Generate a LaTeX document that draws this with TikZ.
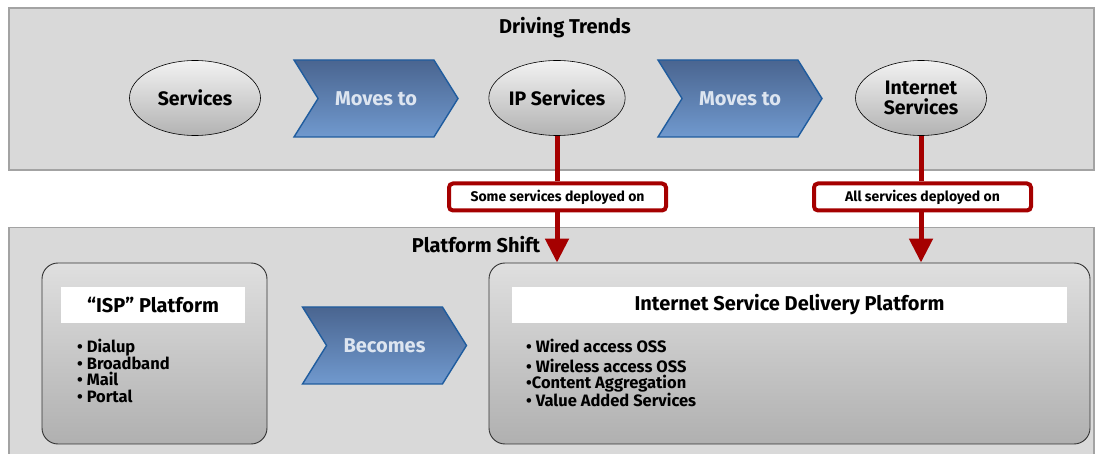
\documentclass[tikz,border=0pt]{standalone}
\usepackage{fontspec}
\setmainfont{Fira Sans}
\usetikzlibrary{positioning, arrows.meta, shapes.geometric, shapes.symbols}

\definecolor{panelfill}{HTML}{D9D9D9}
\definecolor{panelline}{HTML}{A3A3A3}
\definecolor{chevtop}{HTML}{4A6590}
\definecolor{chevbot}{HTML}{7099CE}
\definecolor{chevline}{HTML}{1F5C9E}
\definecolor{chevtext}{HTML}{DDE5F0}
\definecolor{deployred}{HTML}{A50000}

\begin{document}
\begin{tikzpicture}[
    x=1pt, y=-1pt,
    panel/.style={
        draw=panelline,
        line width=1.5pt,
        fill=panelfill,
        minimum width=1085pt
    },
    heading/.style={font=\bfseries\fontsize{20}{22}\selectfont},
    svc/.style={
        ellipse,
        draw=black,
        line width=0.6pt,
        top color=gray!10,
        bottom color=gray!60,
        minimum width=131pt,
        minimum height=75pt,
        inner sep=0pt,
        align=center,
        font=\bfseries\fontsize{19.5}{19.5}\selectfont
    },
    move/.style={
        signal,
        signal from=west,
        signal to=east,
        signal pointer angle=116,
        draw=chevline,
        line width=1.4pt,
        top color=chevtop,
        bottom color=chevbot,
        minimum width=164pt,
        minimum height=77pt,
        text=chevtext,
        font=\bfseries\fontsize{20}{22}\selectfont
    },
    platbox/.style={
        draw=black!80,
        line width=0.9pt,
        rounded corners=16pt,
        top color=gray!25,
        bottom color=gray!62,
        minimum height=181pt
    },
    titlebar/.style={
        fill=white,
        minimum height=36pt,
        font=\bfseries\fontsize{20}{22}\selectfont
    },
    items/.style={
        align=left,
        inner sep=0pt,
        font=\bfseries\fontsize{16.5}{16.5}\selectfont
    },
    deploy/.style={
        draw=deployred,
        line width=4pt,
        rounded corners=4pt,
        fill=white,
        minimum width=217pt,
        minimum height=27pt,
        font=\bfseries\fontsize{14}{16}\selectfont
    },
    feed/.style={draw=deployred, line width=5pt}
]
\useasboundingbox (0,0) rectangle (1096,454);

% driving trends
\node[panel, minimum height=162pt] (trendpanel) at (551.5,89) {};
\node[heading] (trends) at (565,28) {Driving Trends};
\node[svc] (svc) at (195,98) {Services};
\node[move] (move1) at (376,98.5) {Moves to};
\node[svc] (ipsvc) at (557,98) {IP Services};
\node[move] (move2) at (740,98.5) {Moves to};
\node[svc] (inetsvc) at (921,98) {Internet\\Services};

% platform shift
\node[panel, minimum height=250pt, anchor=north] (platpanel) at (551.5,227) {};
\node[heading] (shift) at (476,245) {Platform Shift};
\node[platbox, minimum width=225pt] (isp) at (154.5,353.5) {};
\node[titlebar, minimum width=184pt] (isptitle) at (153,305) {“ISP” Platform};
\node[items, anchor=north west] (isplist) at (77,339)
    {• Dialup\\• Broadband\\• Mail\\• Portal};
\node[move] (becomes) at (384.5,345.5) {Becomes};
\node[platbox, minimum width=601pt] (isdp) at (789.5,353.5) {};
\node[titlebar, minimum width=555pt] (isdptitle) at (789.5,305)
    {Internet Service Delivery Platform};
\node[items, anchor=north west] (isdplist) at (526,339)
    {• Wired access OSS\\[3pt]• Wireless access OSS\\•Content Aggregation\\• Value Added Services};

% deployment links
\node[deploy] (some) at (557.5,197) {Some services deployed on};
\node[deploy] (all) at (922.5,197) {All services deployed on};

\draw[feed] (ipsvc.south) -- (ipsvc.south |- some.north);
\draw[feed] (inetsvc.south) -- (inetsvc.south |- all.north);
\draw[feed, -{Triangle[width=23pt, length=24pt]}] (ipsvc.south |- some.south) -- (ipsvc.south |- isdp.north);
\draw[feed, -{Triangle[width=23pt, length=24pt]}] (inetsvc.south |- all.south) -- (inetsvc.south |- isdp.north);

\end{tikzpicture}
\end{document}
